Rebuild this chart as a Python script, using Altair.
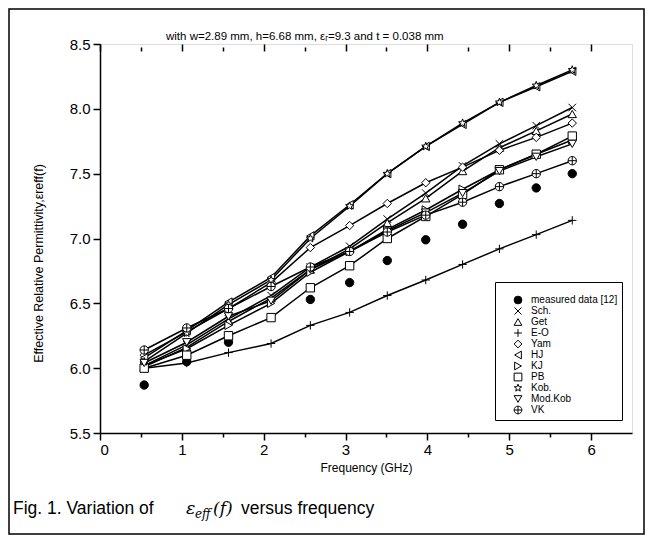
import math
import altair as alt
import pandas as pd

# ---------------- data ----------------
freq = [0.54, 1.06, 1.57, 2.09, 2.57, 3.05, 3.51, 3.98, 4.43, 4.88, 5.33, 5.77]
freq_measured = [0.54, 1.06, 1.57, 2.57, 3.05, 3.51, 3.98, 4.43, 4.88, 5.33, 5.77]
measured = [5.87, 6.05, 6.20, 6.53, 6.66, 6.83, 6.99, 7.11, 7.27, 7.39, 7.50]

sch = [6.02, 6.18, 6.38, 6.56, 6.78, 6.94, 7.15, 7.35, 7.56, 7.73, 7.87, 8.01]
get = [6.01, 6.16, 6.36, 6.54, 6.76, 6.92, 7.12, 7.31, 7.52, 7.70, 7.83, 7.96]
eo = [6.00, 6.04, 6.12, 6.19, 6.33, 6.43, 6.56, 6.68, 6.80, 6.92, 7.03, 7.14]
yam = [6.10, 6.28, 6.46, 6.66, 6.93, 7.10, 7.27, 7.43, 7.55, 7.68, 7.78, 7.89]
hj = [6.08, 6.29, 6.51, 6.70, 7.02, 7.26, 7.50, 7.71, 7.88, 8.05, 8.17, 8.29]
kj = [6.02, 6.15, 6.33, 6.50, 6.74, 6.90, 7.07, 7.22, 7.38, 7.53, 7.65, 7.76]
pb = [6.00, 6.10, 6.25, 6.39, 6.62, 6.79, 7.00, 7.17, 7.34, 7.53, 7.65, 7.79]
kob = [6.05, 6.27, 6.49, 6.68, 7.00, 7.25, 7.50, 7.71, 7.89, 8.05, 8.18, 8.30]
modkob = [6.04, 6.20, 6.40, 6.52, 6.76, 6.90, 7.06, 7.20, 7.35, 7.52, 7.63, 7.73]
vk = [6.14, 6.31, 6.46, 6.63, 6.78, 6.90, 7.05, 7.18, 7.28, 7.40, 7.50, 7.60]

series_names = ["measured data [12]", "Sch.", "Get", "E-O", "Yam", "HJ", "KJ",
                "PB", "Kob.", "Mod.Kob", "VK"]
model_values = [sch, get, eo, yam, hj, kj, pb, kob, modkob, vk]

x_ticks = [0, 0.5, 1, 1.5, 2, 2.5, 3, 3.5, 4, 4.5, 5, 5.5, 6]
y_ticks = [5.5, 5.75, 6.0, 6.25, 6.5, 6.75, 7.0, 7.25, 7.5, 7.75, 8.0, 8.25, 8.5]

title_text = "with w=2.89 mm, h=6.68 mm, \u03b5\u1d63=9.3 and t = 0.038 mm"
x_title = "Frequency (GHz)"
y_title = "Effective Relative Permittivity,\u03b5reff(f)"
caption_parts = ["Fig. 1. Variation of", "\u03b5", "eff", "(f)", "versus frequency"]

# ---------------- tables ----------------
rows = []
for f, v in zip(freq_measured, measured):
    rows.append({"series": series_names[0], "f": f, "v": v})
for name, vals in zip(series_names[1:], model_values):
    for f, v in zip(freq, vals):
        rows.append({"series": name, "f": f, "v": v})
df = pd.DataFrame(rows)

# ---------------- marker shapes (style) ----------------
def star_path():
    pts = []
    for i in range(10):
        r = 1.0 if i % 2 == 0 else 0.42
        a = math.radians(-90 + 36 * i)
        pts.append(f"{r*math.cos(a):.3f},{r*math.sin(a):.3f}")
    return "M" + "L".join(pts) + "Z"

X_PATH = "M-0.9,-0.9L0.9,0.9M-0.9,0.9L0.9,-0.9"
PLUS_PATH = "M-1,0L1,0M0,-1L0,1"
CIRCLE_PLUS = "M1,0A1,1,0,1,1,-1,0A1,1,0,1,1,1,0ZM-1,0L1,0M0,-1L0,1"
shapes = ["circle", X_PATH, "triangle-up", PLUS_PATH, "diamond", "triangle-left",
          "triangle-right", "square", star_path(), "triangle-down", CIRCLE_PLUS]
fills = ["black"] + ["white"] * 10
strokes = ["black"] * 11

FONT = "Liberation Sans"

xscale = alt.Scale(domain=[0, 6.5], nice=False, zero=False)
yscale = alt.Scale(domain=[5.5, 8.5], nice=False, zero=False)

major_x = "datum.value % 1 === 0"
major_y = "(datum.value * 2) % 1 === 0"

x_axis = alt.Axis(
    values=x_ticks, title=x_title, labelExpr=f"{major_x} ? format(datum.value, 'd') : ''",
    tickSize={"condition": {"test": major_x, "value": 7}, "value": 4},
    grid=False, domainColor="black", tickColor="black", domainWidth=1.5, tickWidth=1.5,
    labelFont=FONT, labelFontSize=15, labelColor="black", labelPadding=2,
    titleFont=FONT, titleFontSize=12, titleFontWeight="normal", titleColor="black",
    titlePadding=5,
)
y_axis = alt.Axis(
    values=y_ticks, title=y_title,
    labelExpr=f"{major_y} ? format(datum.value, '.1f') : ''",
    tickSize={"condition": {"test": major_y, "value": 7}, "value": 4},
    grid=False, domainColor="black", tickColor="black", domainWidth=1.5, tickWidth=1.5,
    labelFont=FONT, labelFontSize=15, labelColor="black", labelPadding=3,
    titleFont=FONT, titleFontSize=12.5, titleFontWeight="normal", titleColor="black",
    titleX=-62, titleY=219, titleAlign="center", titleBaseline="middle", titleAngle=-90,
)

lines = alt.Chart(df).transform_filter(
    alt.datum.series != series_names[0]
).mark_line(color="black", strokeWidth=1.5).encode(
    x=alt.X("f:Q", scale=xscale, axis=x_axis),
    y=alt.Y("v:Q", scale=yscale, axis=y_axis),
    detail="series:N",
)

legend = alt.Legend(
    title=" ", titleFontSize=8, titlePadding=1,
    orient="none", legendX=395, legendY=238,
    strokeColor="black", fillColor="white", padding=4, rowPadding=-1.5,
    labelFont=FONT, labelFontSize=10, labelColor="black", labelOffset=8,
    symbolOffset=14,
    symbolStrokeColor="black", symbolStrokeWidth=1, symbolSize=60,
)

points = alt.Chart(df).mark_point(size=70, strokeWidth=1, opacity=1,
                                  filled=True).encode(
    x=alt.X("f:Q", scale=xscale, axis=None),
    y=alt.Y("v:Q", scale=yscale),
    shape=alt.Shape("series:N", scale=alt.Scale(domain=series_names, range=shapes),
                    legend=legend),
    fill=alt.Fill("series:N", scale=alt.Scale(domain=series_names, range=fills),
                  legend=legend),
    stroke=alt.Stroke("series:N", scale=alt.Scale(domain=series_names, range=strokes),
                      legend=legend),
)

# top mirror axis (ticks pointing into the plot)
top_axis = alt.Chart(df).mark_point(opacity=0).encode(
    x=alt.X("f:Q", scale=xscale, axis=alt.Axis(
        orient="top", values=x_ticks, labels=False, title=None, domain=False,
        offset=-7, grid=False, tickColor="black", tickWidth=1.5,
        tickSize={"condition": {"test": major_x, "value": 7}, "value": 4})),
    y=alt.Y("v:Q", scale=yscale),
)

# header, caption and outer frame
note = pd.DataFrame({"k": [0]})
frame = alt.Chart(note).mark_rect(fill=None, stroke="black", strokeWidth=1.5).encode(
    x=alt.value(-91), x2=alt.value(544), y=alt.value(-35), y2=alt.value(490))

def txt(s, x, y, size=17.5, style="normal", font=FONT):
    return alt.Chart(note).mark_text(text=s, align="left", baseline="alphabetic",
                                     fontSize=size, font=font, fontStyle=style,
                                     color="black").encode(x=alt.value(x), y=alt.value(y))

header = txt(title_text, 66, -4, 11.5)

cap_y = 470
caption = (txt(caption_parts[0], -87, cap_y)
           + txt(caption_parts[1], 86, cap_y, 17.5, "italic", "DejaVu Serif")
           + txt(caption_parts[2], 95, cap_y + 4, 12, "italic", "DejaVu Serif")
           + txt(caption_parts[3], 113, cap_y, 17, "italic", "DejaVu Serif")
           + txt(caption_parts[4], 141, cap_y))

chart = alt.layer(lines, points, top_axis, frame, header, caption).resolve_axis(
    x="independent"
).properties(
    width=532, height=389,
    autosize=alt.AutoSizeParams(type="none"),
    padding={"left": 92, "top": 36, "right": 13, "bottom": 102},
).configure_view(stroke="black", strokeWidth=1.5).configure(background="white")

chart.save("out.html", embed_options={"renderer": "svg", "actions": False})
